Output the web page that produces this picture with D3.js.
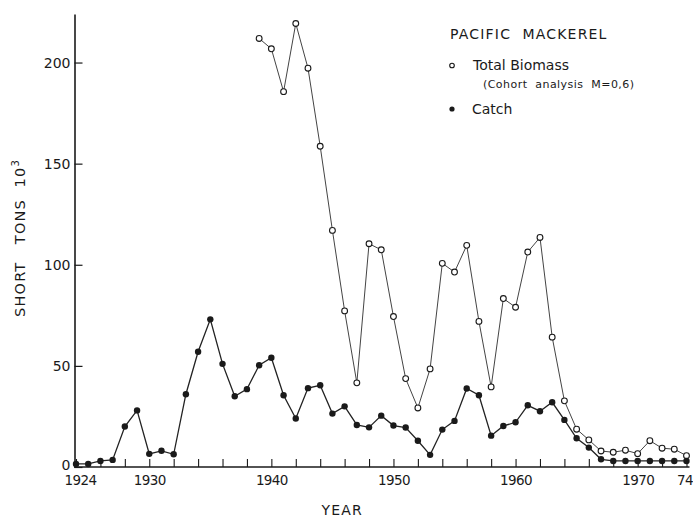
<!DOCTYPE html>
<html>
<head>
<meta charset="utf-8">
<script src="https://cdn.jsdelivr.net/npm/d3@7/dist/d3.min.js"></script>
<style>
  html, body { margin: 0; padding: 0; background: #fff; }
  svg { display: block; font-family: "DejaVu Sans", sans-serif; }
  text { white-space: pre; }
</style>
</head>
<body>
<svg id="chart" width="693" height="517"></svg>
<script>
// ---- Data ----
const catchYears = d3.range(1924, 1975);
const catchValues = [1.5, 1.5, 3, 3.5, 20, 28, 6.5, 8, 6.3, 36, 57, 73, 51, 35, 38.5, 50.3, 54, 35.5, 24, 39,
  40.4, 26.4, 30, 20.8, 19.6, 25.4, 20.5, 19.5, 13, 6, 18.5, 22.8, 38.8, 35.5, 15.5, 20.3, 22.1, 30.5, 27.6, 32,
  23.3, 14.2, 9.6, 3.8, 3, 3, 3, 3, 3, 3, 3];
const biomassYears = d3.range(1939, 1975);
const biomassValues = [211.9, 206.8, 185.6, 219.3, 197.2, 158.6, 117, 77.2, 41.6, 110.4, 107.4, 74.4, 43.7, 29.2,
  48.5, 100.7, 96.4, 109.6, 72, 39.6, 83.3, 79, 106.3, 113.5, 64.2, 32.7, 18.7, 13.4, 7.9, 7.3, 8.3, 6.6, 13, 9.3, 8.8, 5.6];
const yTicks = [0, 50, 100, 150, 200];
const xTicks = d3.range(1924, 1975, 2);
const xLabels = { 1924: "1924", 1930: "1930", 1940: "1940", 1950: "1950", 1960: "1960", 1970: "1970", 1974: "74" };

const svg = d3.select("#chart");
const ink = "#1a1a1a";

const x = d3.scaleLinear().domain([1924, 1974]).range([76, 686.5]);
const y = d3.scaleLinear().domain([0, 224]).range([467, 14]);

// Y axis
const yAxis = d3.axisLeft(y).tickValues(yTicks).tickSizeInner(-8).tickSizeOuter(0).tickPadding(4);
const gy = svg.append("g").attr("transform", `translate(${x(1924) - 1.5},0)`).call(yAxis);
gy.select(".domain").attr("stroke", ink).attr("stroke-width", 1.6);
gy.selectAll(".tick line").attr("stroke", ink).attr("stroke-width", 1.2);
gy.selectAll(".tick text").attr("font-size", 14).attr("fill", ink).attr("font-family", "DejaVu Sans")
  .attr("dy", d => d === 0 ? "0.2em" : "0.32em");

// X axis
const xAxis = d3.axisBottom(x).tickValues(xTicks).tickSizeInner(-8).tickSizeOuter(0).tickPadding(8)
  .tickFormat(d => xLabels[d] || "");
const gx = svg.append("g").attr("transform", `translate(0,${y(0)})`).call(xAxis);
gx.select(".domain").attr("stroke", ink).attr("stroke-width", 1.6).attr("d", `M${x(1924) - 2},0H${x(1974) + 3}`);
gx.selectAll(".tick line").attr("stroke", ink).attr("stroke-width", 1.1);
gx.selectAll(".tick text").attr("font-size", 13.5).attr("fill", ink).attr("letter-spacing", -0.6)
  .attr("font-family", "DejaVu Sans")
  .attr("text-anchor", d => d === 1974 ? "end" : "middle")
  .attr("dx", d => d === 1974 ? 6 : d === 1924 ? 4 : 0);

// Axis titles
svg.append("text").attr("x", x(1945.8)).attr("y", 515).attr("text-anchor", "middle")
  .attr("font-size", 14).attr("letter-spacing", 1.2).attr("fill", ink).text("YEAR");
const yl = svg.append("text").attr("transform", "translate(25,238) rotate(-90)").attr("text-anchor", "middle")
  .attr("font-size", 14.5).attr("letter-spacing", 1.2).attr("fill", ink);
yl.append("tspan").text("SHORT   TONS  10");
yl.append("tspan").attr("dy", -6).attr("font-size", 10).text("3");

// Lines
const catchData = catchYears.map((yr, i) => ({ yr, v: catchValues[i] }));
const bioData = biomassYears.map((yr, i) => ({ yr, v: biomassValues[i] }));
const line = d3.line().x(d => x(d.yr)).y(d => y(d.v));

svg.append("path").datum(bioData).attr("d", line).attr("fill", "none")
  .attr("stroke", "#444").attr("stroke-width", 1);
svg.append("path").datum(catchData).attr("d", line).attr("fill", "none")
  .attr("stroke", "#222").attr("stroke-width", 1.3);

svg.append("g").selectAll("circle").data(bioData).join("circle")
  .attr("cx", d => x(d.yr)).attr("cy", d => y(d.v)).attr("r", 2.9)
  .attr("fill", "#fff").attr("stroke", ink).attr("stroke-width", 1.1);
svg.append("g").selectAll("circle").data(catchData).join("circle")
  .attr("cx", d => x(d.yr)).attr("cy", d => y(d.v)).attr("r", 3.2)
  .attr("fill", ink);

// Legend
const lg = svg.append("g").attr("fill", ink);
lg.append("text").attr("x", 450).attr("y", 39).attr("font-size", 14).attr("letter-spacing", 1.2)
  .text("PACIFIC  MACKEREL");
lg.append("circle").attr("cx", 452).attr("cy", 65.5).attr("r", 2.3).attr("fill", "#fff")
  .attr("stroke", ink).attr("stroke-width", 1.1);
lg.append("text").attr("x", 473).attr("y", 70).attr("font-size", 14).text("Total Biomass");
lg.append("text").attr("x", 483).attr("y", 88).attr("font-size", 11).attr("letter-spacing", 0.45)
  .text("(Cohort  analysis  M=0,6)");
lg.append("circle").attr("cx", 452).attr("cy", 109).attr("r", 2.6);
lg.append("text").attr("x", 472).attr("y", 114).attr("font-size", 14).text("Catch");
</script>
</body>
</html>
